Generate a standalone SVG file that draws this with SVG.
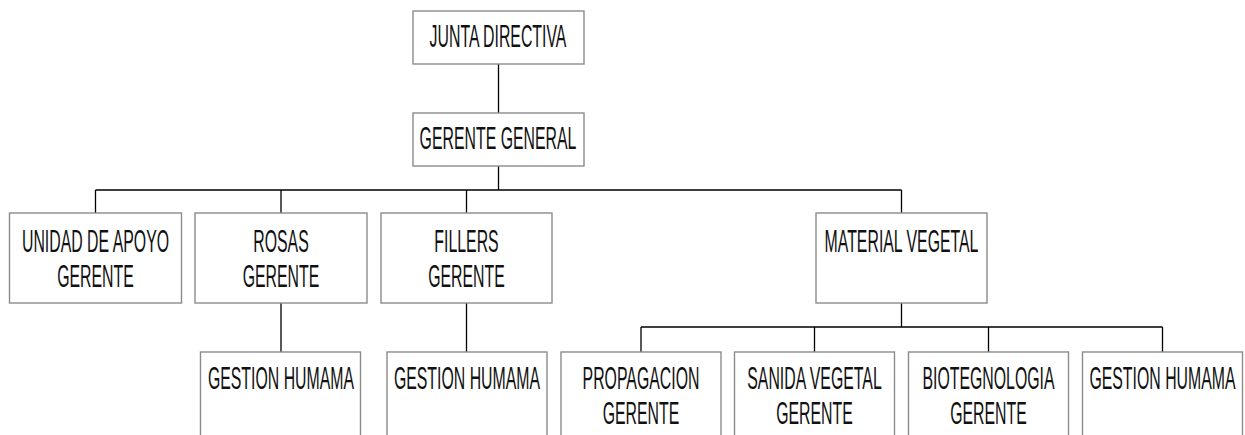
<svg xmlns="http://www.w3.org/2000/svg" width="1245" height="435" viewBox="0 0 1245 435">
<style>
.box{fill:#fff;stroke:#8c8c8c;stroke-width:1.4}
.lbl{font-family:"Liberation Sans",Arial,sans-serif;font-size:30.5px;fill:#111;text-anchor:middle}
.con{stroke:#000;stroke-width:1.3;fill:none}
</style>
<rect width="1245" height="435" fill="#fff"/>
<g id="connectors">
<path class="con" d="M498.5 64V113M498.5 166V190M95.5 190H901.5M95.5 190V213M281 190V213M466.5 190V213M901.5 190V213M281 303V352M466.5 303V352M901.5 303V327M641 327H1162.5M641 327V352M814.5 327V352M988.5 327V352M1162.5 327V352"/>
</g>
<g id="junta">
<rect class="box" x="413" y="11" width="171" height="53"/>
<text class="lbl" transform="translate(498,47) scale(0.52,1)">JUNTA DIRECTIVA</text>
</g>
<g id="gerente-general">
<rect class="box" x="413" y="113" width="171" height="53"/>
<text class="lbl" transform="translate(498,149) scale(0.52,1)">GERENTE GENERAL</text>
</g>
<g id="unidad-apoyo">
<rect class="box" x="9.5" y="213" width="172" height="90"/>
<text class="lbl" transform="translate(95.5,251.5) scale(0.52,1)">UNIDAD DE APOYO</text>
<text class="lbl" transform="translate(95.5,286.5) scale(0.52,1)">GERENTE</text>
</g>
<g id="rosas">
<rect class="box" x="195" y="213" width="172" height="90"/>
<text class="lbl" transform="translate(281,251.5) scale(0.52,1)">ROSAS</text>
<text class="lbl" transform="translate(281,286.5) scale(0.52,1)">GERENTE</text>
</g>
<g id="fillers">
<rect class="box" x="381" y="213" width="171" height="90"/>
<text class="lbl" transform="translate(466.5,251.5) scale(0.52,1)">FILLERS</text>
<text class="lbl" transform="translate(466.5,286.5) scale(0.52,1)">GERENTE</text>
</g>
<g id="material-vegetal">
<rect class="box" x="816" y="213" width="171" height="90"/>
<text class="lbl" transform="translate(901.5,251.5) scale(0.52,1)">MATERIAL VEGETAL</text>
</g>
<g id="gestion-rosas">
<rect class="box" x="200.5" y="352" width="160" height="100"/>
<text class="lbl" transform="translate(281,388.5) scale(0.52,1)">GESTION HUMAMA</text>
</g>
<g id="gestion-fillers">
<rect class="box" x="387" y="352" width="160" height="100"/>
<text class="lbl" transform="translate(467,388.5) scale(0.52,1)">GESTION HUMAMA</text>
</g>
<g id="propagacion">
<rect class="box" x="561" y="352" width="160" height="100"/>
<text class="lbl" transform="translate(641,388.5) scale(0.52,1)">PROPAGACION</text>
<text class="lbl" transform="translate(641,423.5) scale(0.52,1)">GERENTE</text>
</g>
<g id="sanida-vegetal">
<rect class="box" x="734.5" y="352" width="160" height="100"/>
<text class="lbl" transform="translate(814.5,388.5) scale(0.52,1)">SANIDA VEGETAL</text>
<text class="lbl" transform="translate(814.5,423.5) scale(0.52,1)">GERENTE</text>
</g>
<g id="biotegnologia">
<rect class="box" x="908.5" y="352" width="160" height="100"/>
<text class="lbl" transform="translate(988.5,388.5) scale(0.52,1)">BIOTEGNOLOGIA</text>
<text class="lbl" transform="translate(988.5,423.5) scale(0.52,1)">GERENTE</text>
</g>
<g id="gestion-material">
<rect class="box" x="1082.5" y="352" width="160" height="100"/>
<text class="lbl" transform="translate(1162.5,388.5) scale(0.52,1)">GESTION HUMAMA</text>
</g>
</svg>
